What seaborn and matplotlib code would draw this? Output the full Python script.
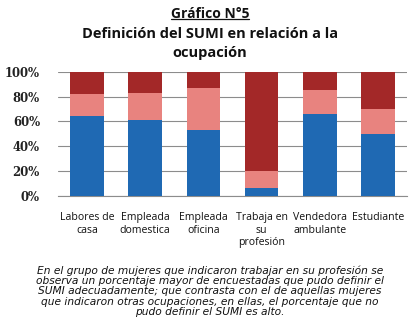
import numpy as np
import pandas as pd
import seaborn as sns
import matplotlib.pyplot as plt
from matplotlib.lines import Line2D

categories = ['Labores de\ncasa', 'Empleada\ndomestica', 'Empleada\noficina',
              'Trabaja en\nsu\nprofesión', 'Vendedora\nambulante', 'Estudiante']
pudo_definir = [64, 61, 53, 6, 66, 50]
parcial = [18, 22, 34, 14, 19, 20]
no_pudo = [18, 17, 13, 80, 15, 30]

colors = ['#1f69b3', '#e8837f', '#a32828']

df = pd.DataFrame({'cat': categories, 'a': pudo_definir, 'b': parcial, 'c': no_pudo})
df['top'] = df['a'] + df['b'] + df['c']
df['mid'] = df['a'] + df['b']

sns.set_style('white')
fig = plt.figure(figsize=(4.2, 3.29), dpi=100)
ax = fig.add_axes([0.138, 0.405, 0.831, 0.377])

# stacked bars drawn as cumulative layers
for col, c in zip(['top', 'mid', 'a'], colors[::-1]):
    sns.barplot(data=df, x='cat', y=col, color=c, width=0.58, ax=ax,
                saturation=1, linewidth=0, zorder=3)

ax.set_ylim(0, 100)
ax.set_xlim(-0.5, len(categories) - 0.5)
ax.set_yticks(np.arange(0, 101, 20))
ax.set_yticklabels([f'{v}%' for v in range(0, 101, 20)],
                   fontfamily='DejaVu Serif', fontweight='bold', fontsize=8.4, color='#222222')
ax.set_xticks(range(len(categories)))
ax.set_xticklabels(categories, fontfamily='Open Sans', fontsize=7.6, color='#111111',
                   linespacing=1.15)
ax.tick_params(axis='y', length=0, pad=13)
ax.tick_params(axis='x', length=0, pad=12)
ax.yaxis.grid(True, color='#8c8c8c', linewidth=0.8, zorder=0)
ax.set_axisbelow(True)
for s in ['top', 'right', 'left']:
    ax.spines[s].set_visible(False)
ax.spines['bottom'].set_color('#8c8c8c')
ax.set_xlabel('')
ax.set_ylabel('')

sub = fig.text(0.5, 0.957, 'Gráfico N°5', ha='center', va='center',
               fontfamily='Open Sans', fontweight='bold', fontsize=10, color='#111111')
fig.text(0.5, 0.867, 'Definición del SUMI en relación a la\nocupación', ha='center',
         va='center', fontfamily='Open Sans', fontweight='bold', fontsize=10.5,
         color='#111111', linespacing=1.45)

caption = ('En el grupo de mujeres que indicaron trabajar en su profesión se\n'
           'observa un porcentaje mayor de encuestadas que pudo definir el\n'
           'SUMI adecuadamente; que contrasta con el de aquellas mujeres\n'
           'que indicaron otras ocupaciones, en ellas, el porcentaje que no\n'
           'pudo definir el SUMI es alto.')
fig.text(0.5, 0.115, caption, ha='center', va='center', fontfamily='DejaVu Sans',
         style='italic', fontsize=7.7, color='#111111', linespacing=1.02)

# underline for the small heading
fig.canvas.draw()
bb = sub.get_window_extent().transformed(fig.transFigure.inverted())
fig.add_artist(Line2D([bb.x0, bb.x1], [bb.y0 + 0.006, bb.y0 + 0.006],
                      color='#111111', linewidth=0.9))

fig.savefig('out.png', dpi=100)
